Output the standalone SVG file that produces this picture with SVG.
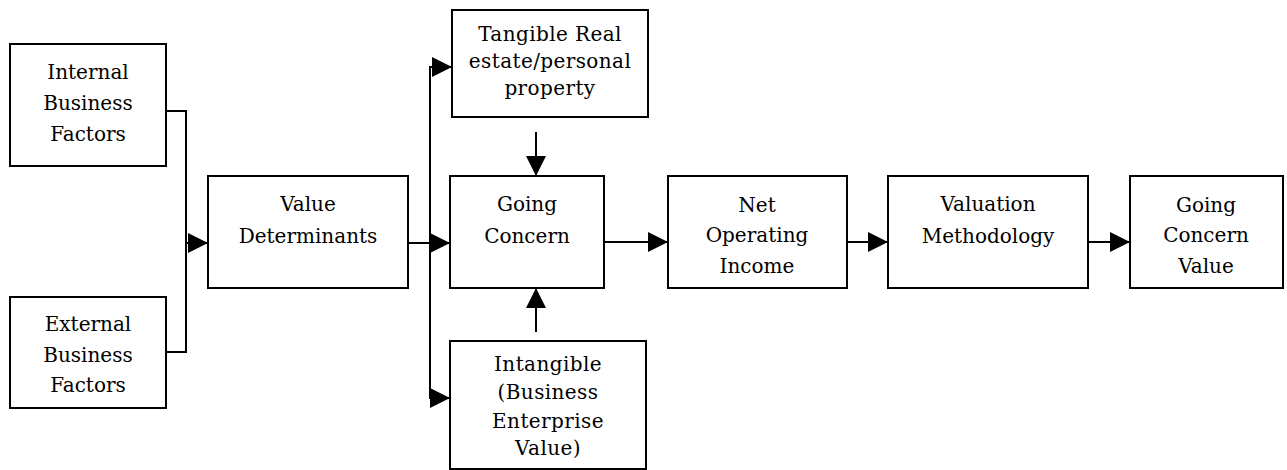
<svg xmlns="http://www.w3.org/2000/svg" width="1287" height="470" viewBox="0 0 1287 470">
  <style>
    .box { fill: #ffffff; stroke: #000000; stroke-width: 2; }
    .lbl { font-family: 'DejaVu Serif', 'Liberation Serif', serif; font-size: 20px; fill: #000000; text-anchor: middle; }
    .lbl2 { font-family: 'DejaVu Serif', 'Liberation Serif', serif; font-size: 20px; letter-spacing: 0.4px; fill: #000000; text-anchor: middle; }
    .con { fill: none; stroke: #000000; stroke-width: 2; }
    .arr { fill: none; stroke: #000000; stroke-width: 2; marker-end: url(#ah); }
  </style>
  <defs>
    <marker id="ah" markerUnits="userSpaceOnUse" markerWidth="20" markerHeight="20" refX="20" refY="10" orient="auto">
      <path d="M0,0 L20,10 L0,20 Z" fill="#000000"/>
    </marker>
  </defs>
  <rect x="0" y="0" width="1287" height="470" fill="#ffffff"/>

  <g id="connectors">
    <polyline class="con" points="164,111 186,111 186,352 164,352"/>
    <line class="arr" x1="186" y1="243" x2="208" y2="243"/>
    <line class="con" x1="406" y1="243" x2="430" y2="243"/>
    <line class="arr" x1="430" y1="243" x2="450" y2="243"/>
    <line class="con" x1="430" y1="66" x2="430" y2="399"/>
    <line class="arr" x1="430" y1="67" x2="452" y2="67"/>
    <line class="arr" x1="430" y1="398" x2="450" y2="398"/>
    <line class="arr" x1="536" y1="132" x2="536" y2="176"/>
    <line class="arr" x1="536" y1="332" x2="536" y2="288"/>
    <line class="arr" x1="604" y1="242" x2="668" y2="242"/>
    <line class="arr" x1="847" y1="242" x2="888" y2="242"/>
    <line class="arr" x1="1087" y1="242" x2="1130" y2="242"/>
  </g>

  <g id="internal">
    <rect class="box" x="10" y="44" width="156" height="122"/>
    <text class="lbl" x="88" y="79">Internal</text>
    <text class="lbl" x="88" y="110">Business</text>
    <text class="lbl" x="88" y="141">Factors</text>
  </g>
  <g id="external">
    <rect class="box" x="10" y="297" width="156" height="111"/>
    <text class="lbl" x="88" y="331">External</text>
    <text class="lbl" x="88" y="362">Business</text>
    <text class="lbl" x="88" y="392">Factors</text>
  </g>
  <g id="value-determinants">
    <rect class="box" x="208" y="176" width="200" height="112"/>
    <text class="lbl" x="308" y="211">Value</text>
    <text class="lbl" x="308" y="243">Determinants</text>
  </g>
  <g id="tangible">
    <rect class="box" x="452" y="10" width="196" height="107"/>
    <text class="lbl2" x="550" y="41">Tangible Real</text>
    <text class="lbl2" x="550" y="68">estate/personal</text>
    <text class="lbl2" x="550" y="95">property</text>
  </g>
  <g id="going-concern">
    <rect class="box" x="450" y="176" width="154" height="112"/>
    <text class="lbl" x="527" y="211">Going</text>
    <text class="lbl" x="527" y="243">Concern</text>
  </g>
  <g id="intangible">
    <rect class="box" x="450" y="341" width="196" height="128"/>
    <text class="lbl2" x="548" y="371">Intangible</text>
    <text class="lbl2" x="548" y="399">(Business</text>
    <text class="lbl2" x="548" y="428">Enterprise</text>
    <text class="lbl2" x="548" y="455">Value)</text>
  </g>
  <g id="net-operating-income">
    <rect class="box" x="668" y="176" width="179" height="112"/>
    <text class="lbl" x="757" y="212">Net</text>
    <text class="lbl" x="757" y="242">Operating</text>
    <text class="lbl" x="757" y="273">Income</text>
  </g>
  <g id="valuation-methodology">
    <rect class="box" x="888" y="176" width="200" height="112"/>
    <text class="lbl" x="988" y="211">Valuation</text>
    <text class="lbl" x="988" y="243">Methodology</text>
  </g>
  <g id="going-concern-value">
    <rect class="box" x="1130" y="176" width="153" height="112"/>
    <text class="lbl" x="1206" y="212">Going</text>
    <text class="lbl" x="1206" y="242">Concern</text>
    <text class="lbl" x="1206" y="273">Value</text>
  </g>
</svg>
